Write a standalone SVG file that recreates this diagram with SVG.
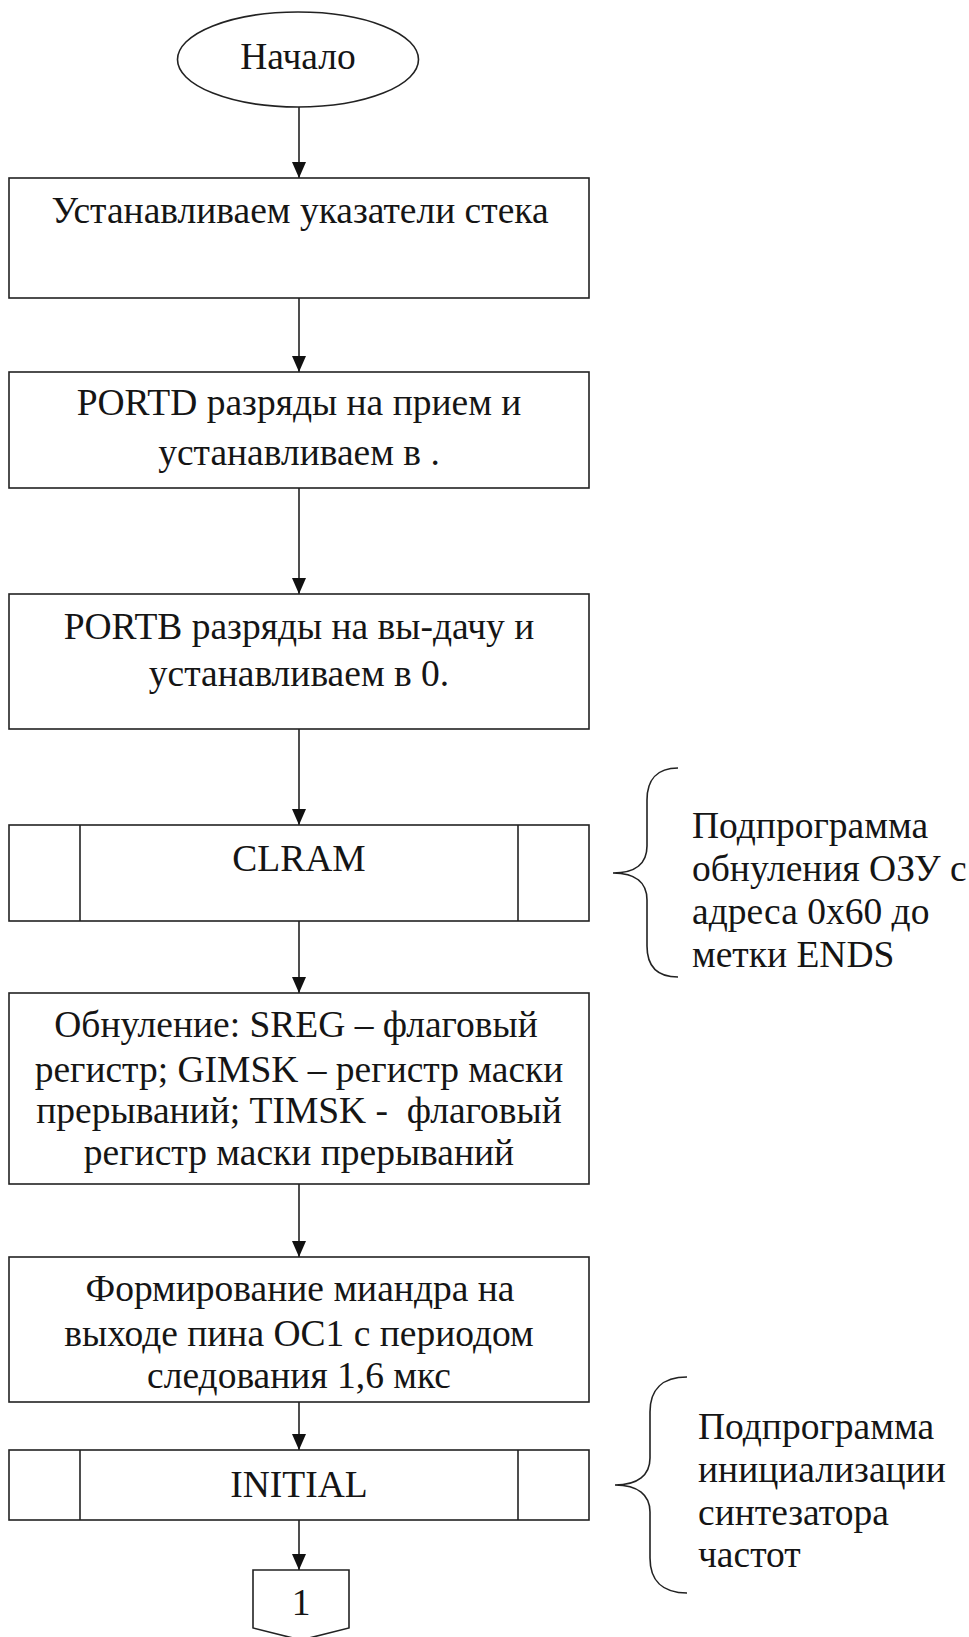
<svg xmlns="http://www.w3.org/2000/svg" width="969" height="1637" viewBox="0 0 969 1637">
  <style>
    .box { fill: #fff; stroke: #222; stroke-width: 1.6; }
    .ln { fill: none; stroke: #222; stroke-width: 1.6; }
    .t { font-family: "Liberation Serif", "Times New Roman", serif; font-size: 37.5px; fill: #151515; text-anchor: middle; }
    .side { font-family: "Liberation Serif", "Times New Roman", serif; font-size: 37.5px; fill: #151515; }
    .flow { fill: none; stroke: #222; stroke-width: 1.6; marker-end: url(#arrow); }
  </style>
  <defs>
    <marker id="arrow" viewBox="0 0 16 14" refX="16" refY="7" markerWidth="16" markerHeight="14" markerUnits="userSpaceOnUse" orient="auto">
      <path d="M0,0 L16,7 L0,14 z" fill="#111"/>
    </marker>
  </defs>
  <rect width="969" height="1637" fill="#fff"/>

  <!-- connectors -->
  <g id="connectors">
    <line class="flow" x1="299" y1="107" x2="299" y2="178"/>
    <line class="flow" x1="299" y1="298" x2="299" y2="372"/>
    <line class="flow" x1="299" y1="488" x2="299" y2="594"/>
    <line class="flow" x1="299" y1="729" x2="299" y2="825"/>
    <line class="flow" x1="299" y1="921" x2="299" y2="993"/>
    <line class="flow" x1="299" y1="1184" x2="299" y2="1257"/>
    <line class="flow" x1="299" y1="1402" x2="299" y2="1450"/>
    <line class="flow" x1="299" y1="1520" x2="299" y2="1570"/>
  </g>

  <!-- start terminal -->
  <g id="start">
    <ellipse class="box" cx="298" cy="59.5" rx="120.5" ry="47.5"/>
    <text class="t" x="298" y="69">Начало</text>
  </g>

  <g id="set-stack">
    <rect class="box" x="9" y="178" width="580" height="120"/>
    <text class="t" x="300" y="223">Устанавливаем указатели стека</text>
  </g>

  <g id="portd">
    <rect class="box" x="9" y="372" width="580" height="116"/>
    <text class="t" x="299" y="415">PORTD разряды на прием и</text>
    <text class="t" x="299" y="465">устанавливаем в .</text>
  </g>

  <g id="portb">
    <rect class="box" x="9" y="594" width="580" height="135"/>
    <text class="t" x="299" y="639">PORTB разряды на вы-дачу и</text>
    <text class="t" x="299" y="686">устанавливаем в 0.</text>
  </g>

  <g id="clram">
    <rect class="box" x="9" y="825" width="580" height="96"/>
    <line class="ln" x1="80" y1="825" x2="80" y2="921"/>
    <line class="ln" x1="518" y1="825" x2="518" y2="921"/>
    <text class="t" x="299" y="871">CLRAM</text>
  </g>

  <g id="clear-regs">
    <rect class="box" x="9" y="993" width="580" height="191"/>
    <text class="t" x="296" y="1037">Обнуление: SREG – флаговый</text>
    <text class="t" x="299" y="1082">регистр; GIMSK – регистр маски</text>
    <text class="t" x="299" y="1123" xml:space="preserve">прерываний; TIMSK -  флаговый</text>
    <text class="t" x="299" y="1165">регистр маски прерываний</text>
  </g>

  <g id="meander">
    <rect class="box" x="9" y="1257" width="580" height="145"/>
    <text class="t" x="300" y="1301">Формирование миандра на</text>
    <text class="t" x="299" y="1346">выходе пина OC1 с периодом</text>
    <text class="t" x="299" y="1388">следования 1,6 мкс</text>
  </g>

  <g id="initial">
    <rect class="box" x="9" y="1450" width="580" height="70"/>
    <line class="ln" x1="80" y1="1450" x2="80" y2="1520"/>
    <line class="ln" x1="518" y1="1450" x2="518" y2="1520"/>
    <text class="t" x="299" y="1497">INITIAL</text>
  </g>

  <g id="page-connector">
    <polygon class="box" points="253,1570 349,1570 349,1628 301,1640 253,1628"/>
    <text class="t" x="301" y="1615">1</text>
  </g>

  <!-- annotations -->
  <g id="note-clram">
    <path class="ln" d="M678,768 C657,768 647,780 647,800 L647,846 C647,863 636,873 613,873 C636,873 647,883 647,900 L647,946 C647,966 657,977 678,977"/>
    <text class="side" x="692" y="838">Подпрограмма</text>
    <text class="side" x="692" y="881">обнуления ОЗУ с</text>
    <text class="side" x="692" y="924">адреса 0x60 до</text>
    <text class="side" x="692" y="967">метки ENDS</text>
  </g>

  <g id="note-initial">
    <path class="ln" d="M687,1377 C662,1377 650,1390 650,1412 L650,1458 C650,1475 638,1485 615,1485 C638,1485 650,1495 650,1512 L650,1558 C650,1580 662,1593 687,1593"/>
    <text class="side" x="698" y="1439">Подпрограмма</text>
    <text class="side" x="698" y="1482">инициализации</text>
    <text class="side" x="698" y="1525">синтезатора</text>
    <text class="side" x="698" y="1567">частот</text>
  </g>
</svg>
